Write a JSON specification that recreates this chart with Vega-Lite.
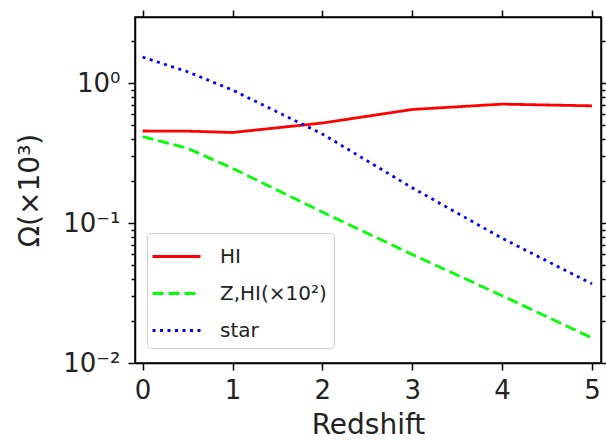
{
  "$schema": "https://vega.github.io/schema/vega-lite/v6.json",
  "width": 466,
  "height": 346,
  "autosize": "none",
  "padding": {"left": 135, "top": 17, "right": 5, "bottom": 77},
  "background": "white",
  "config": {
    "font": "DejaVu Sans",
    "view": {"stroke": "black", "strokeWidth": 1.5},
    "axis": {
      "domainColor": "black", "domainWidth": 1.5, "tickColor": "black", "tickWidth": 1.5,
      "labelColor": "#222", "titleColor": "#222", "labelFont": "DejaVu Sans", "titleFont": "DejaVu Sans",
      "labelFontSize": 26, "titleFontSize": 28, "titleFontWeight": "normal", "grid": false
    }
  },
  "data": {"values": [
    {"z": 0, "v": 0.456, "s": "HI"},
    {"z": 0.5, "v": 0.455, "s": "HI"},
    {"z": 1, "v": 0.445, "s": "HI"},
    {"z": 2, "v": 0.52, "s": "HI"},
    {"z": 3, "v": 0.65, "s": "HI"},
    {"z": 4, "v": 0.71, "s": "HI"},
    {"z": 5, "v": 0.69, "s": "HI"},
    {"z": 0, "v": 0.416, "s": "Z,HI(×10²)"},
    {"z": 0.5, "v": 0.343, "s": "Z,HI(×10²)"},
    {"z": 1, "v": 0.247, "s": "Z,HI(×10²)"},
    {"z": 2, "v": 0.12, "s": "Z,HI(×10²)"},
    {"z": 3, "v": 0.0597, "s": "Z,HI(×10²)"},
    {"z": 4, "v": 0.0303, "s": "Z,HI(×10²)"},
    {"z": 5, "v": 0.0151, "s": "Z,HI(×10²)"},
    {"z": 0, "v": 1.54, "s": "star"},
    {"z": 0.5, "v": 1.21, "s": "star"},
    {"z": 1, "v": 0.895, "s": "star"},
    {"z": 2, "v": 0.434, "s": "star"},
    {"z": 3, "v": 0.179, "s": "star"},
    {"z": 4, "v": 0.078, "s": "star"},
    {"z": 5, "v": 0.0368, "s": "star"}
  ]},
  "layer": [
    {
      "mark": {"type": "line", "strokeWidth": 2.8, "clip": true},
      "encoding": {
        "x": {"field": "z", "type": "quantitative",
          "scale": {"domain": [-0.085, 5.1], "nice": false, "zero": false},
          "axis": {"title": "Redshift", "values": [0,1,2,3,4,5], "tickSize": 7, "labelPadding": 7, "titlePadding": 8, "format": "d"}},
        "y": {"field": "v", "type": "quantitative",
          "scale": {"type": "log", "domain": [0.01, 2.98], "nice": false},
          "axis": {"title": "Ω(×10³)", "values": [0.01,0.02,0.03,0.04,0.05,0.06,0.07,0.08,0.09,0.1,0.2,0.3,0.4,0.5,0.6,0.7,0.8,0.9,1,2],
            "labelExpr": "datum.value == 1 ? '10⁰' : (abs(datum.value - 0.1) < 1e-9 ? '10⁻¹' : (abs(datum.value - 0.01) < 1e-9 ? '10⁻²' : ''))",
            "tickSize": {"condition": {"test": "datum.value == 1 || abs(datum.value - 0.1) < 1e-9 || abs(datum.value - 0.01) < 1e-9", "value": 7}, "value": 4},
            "labelPadding": 8, "titlePadding": 18, "labelFlush": false, "labelOverlap": false}},
        "color": {"field": "s", "type": "nominal",
          "scale": {"domain": ["HI", "Z,HI(×10²)", "star"], "range": ["#ff0000", "#00ff00", "#0000ff"]},
          "legend": {"title": null, "orient": "none", "legendX": 12, "legendY": 216,
            "symbolType": "M-1.6,0H1.6", "symbolStrokeWidth": 2.8, "symbolSize": 900, "symbolOffset": 6,
            "labelFontSize": 20, "labelFont": "DejaVu Sans", "labelColor": "#222",
            "labelExpr": "datum.label + '\u00a0\u00a0\u00a0'",
            "fillColor": "white", "strokeColor": "#cccccc", "cornerRadius": 4, "padding": 7,
            "rowPadding": 10, "labelOffset": 27}},
        "strokeDash": {"field": "s", "type": "nominal",
          "scale": {"domain": ["HI", "Z,HI(×10²)", "star"], "range": [[1, 0], [11, 5], [3, 4.5]]},
          "legend": null}
      }
    },
    {
      "mark": {"type": "point", "opacity": 0},
      "encoding": {
        "x": {"field": "z", "type": "quantitative", "axis": {"orient": "top", "values": [0,1,2,3,4,5], "labels": false, "title": null, "tickSize": 7}},
        "y": {"field": "v", "type": "quantitative", "axis": {"orient": "right", "values": [0.01,0.02,0.03,0.04,0.05,0.06,0.07,0.08,0.09,0.1,0.2,0.3,0.4,0.5,0.6,0.7,0.8,0.9,1,2], "labels": false, "title": null,
          "tickSize": {"condition": {"test": "datum.value == 1 || abs(datum.value - 0.1) < 1e-9 || abs(datum.value - 0.01) < 1e-9", "value": 7}, "value": 4}}}
      }
    }
  ],
  "resolve": {"axis": {"x": "independent", "y": "independent"}}
}
